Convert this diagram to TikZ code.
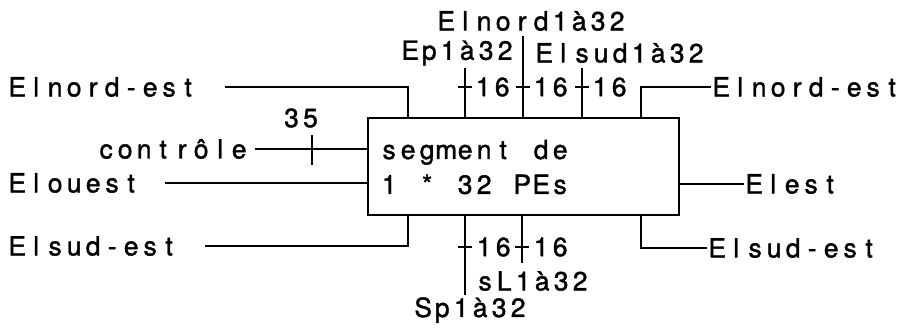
\documentclass[tikz,border=0pt]{standalone}
\usepackage{fontspec}
\setmainfont{TeX Gyre Heros}[FakeBold=1.4]
\usetikzlibrary{positioning}
\newlength\cellw
\setlength\cellw{19bp}
\newcommand\cells[1]{\cellsloop#1\relax}
\def\cellsloop#1{\ifx\relax#1\else\makebox[\cellw]{#1}\expandafter\cellsloop\fi}
\begin{document}
\begin{tikzpicture}[x=1bp, y=-1bp, line width=1.4bp,
        lbl/.style={anchor=west, inner sep=0pt, font=\fontsize{26.5}{35}\selectfont},
        num/.style={lbl, anchor=center},
        segbox/.style={draw, minimum width=311bp, minimum height=97bp, inner sep=0pt},
        tick/.style={line width=1.2bp}]
    \useasboundingbox (0,0) rectangle (903,327);

    % le segment
    \node[segbox] (seg) at (523.5,166.5) {};
    \node[lbl, align=left] (segtxt) at (379,167) {\cells{segment~de}\\\cells{1~*~32~PEs}};

    % cote gauche
    \node[lbl] (lne) at (7,87)   {\cells{Elnord-est}};
    \node[lbl] (ctrl) at (96,149) {\cells{contrôle}};
    \node[lbl] (lo) at (7,183)   {\cells{Elouest}};
    \node[lbl] (lse) at (7,246)  {\cells{Elsud-est}};
    \node[num] (n35) at (301,118) {\cells{35}};
    \coordinate (lneA) at (225,87);
    \coordinate (loA) at (165,183);
    \coordinate (lseA) at (205,246);
    \coordinate (ctrlA) at (255,149);
    \draw (lneA) -| (408,0 |- seg.north);
    \draw (ctrlA) -- (ctrlA -| seg.west);
    \draw[tick] (312,135) -- (312,165);
    \draw (loA) -- (loA -| seg.west);
    \draw (lseA) -| (408,0 |- seg.south);

    % cote droit
    \node[lbl] (rne) at (711,87)  {\cells{Elnord-est}};
    \node[lbl] (re) at (744,184)  {\cells{Elest}};
    \node[lbl] (rse) at (707,248) {\cells{Elsud-est}};
    \draw (641,0 |- seg.north) |- (rne.west);
    \draw (re.west -| seg.east) -- (re.west);
    \draw (641,0 |- seg.south) |- (rse.west);

    % haut
    \node[lbl] (tn) at (436,21) {\cells{Elnord1à32}};
    \node[lbl] (tep) at (400,53) {\cells{Ep1à32}};
    \node[lbl] (tes) at (534,53) {\cells{Elsud1à32}};
    \coordinate (tepA) at (465,68);
    \coordinate (tnA) at (523,36);
    \coordinate (tesA) at (582,68);
    \draw (tepA) -- (tepA |- seg.north);
    \draw (tnA) -- (tnA |- seg.north);
    \draw (tesA) -- (tesA |- seg.north);
    \foreach \x in {465,523,582} {
        \draw[tick] (\x-7,87) -- (\x+7,87);
        \node[lbl] (t\x) at (\x+8,87) {\cells{16}};
    }

    % bas
    \node[lbl] (bsl) at (475,281) {\cells{sL1à32}};
    \node[lbl] (bsp) at (413,310) {\cells{Sp1à32}};
    \coordinate (bspA) at (465,295);
    \coordinate (bslA) at (522,263);
    \draw (bspA |- seg.south) -- (bspA);
    \draw (bslA |- seg.south) -- (bslA);
    \foreach \x in {465,522} {
        \draw[tick] (\x-7,247) -- (\x+7,247);
        \node[lbl] (b\x) at (\x+9,247) {\cells{16}};
    }
\end{tikzpicture}
\end{document}
